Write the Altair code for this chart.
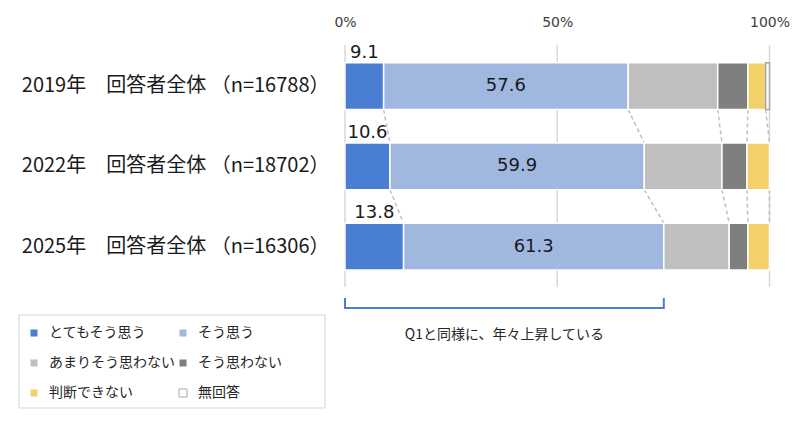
import altair as alt
import pandas as pd

years = ["2019年", "2022年", "2025年"]
n_counts = [16788, 18702, 16306]
categories = ["とてもそう思う", "そう思う", "あまりそう思わない", "そう思わない", "判断できない", "無回答"]
colors = ["#4A7ED3", "#A0B7E0", "#BFBFBF", "#7F7F7F", "#F2D16B", "#FFFFFF"]
strokes = ["#FFFFFF", "#FFFFFF", "#FFFFFF", "#FFFFFF", "#FFFFFF", "#A6A6A6"]
share_2019 = [9.1, 57.6, 21.1, 7.1, 4.2, 0.9]
share_2022 = [10.6, 59.9, 18.3, 5.9, 5.3, 0.0]
share_2025 = [13.8, 61.3, 15.4, 4.4, 5.1, 0.0]
ticks = [0, 50, 100]
note = "Q1と同様に、年々上昇している"

JP = "Noto Sans CJK JP"
NUM = "DejaVu Sans"

# long table with cumulative positions
row_labels = []
recs = []
for y, n, vals in zip(years, n_counts, [share_2019, share_2022, share_2025]):
    label = f"{y}　回答者全体 （n={n}）"
    row_labels.append(label)
    cum = 0.0
    for i, (c, v) in enumerate(zip(categories, vals)):
        recs.append({"row": label, "cat": c, "order": i, "value": v,
                     "start": cum, "end": cum + v, "mid": cum + v / 2})
        cum += v
df = pd.DataFrame(recs)

# dashed connectors between consecutive rows
conn = []
for a, b in zip(row_labels[:-1], row_labels[1:]):
    ea = df[df.row == a].end.tolist()
    eb = df[df.row == b].end.tolist()
    for k in range(5):
        conn.append({"row_from": a, "row_to": b, "x_from": ea[k], "x_to": eb[k]})
conn = pd.DataFrame(conn)

last = df[df.row == row_labels[-1]]
bracket_end = float(last.end.iloc[1])
bracket = pd.DataFrame({"a": [0.0], "b": [bracket_end], "m": [bracket_end / 2]})

x_scale = alt.Scale(domain=[0, 100], range=[337, 761.5])
y_scale = alt.Scale(domain=row_labels, range=[54.7, 262], paddingInner=0.416, paddingOuter=0)

grid = alt.Chart(pd.DataFrame({"g": ticks})).mark_rule(color="#D9D9D9", strokeWidth=1.5).encode(
    x=alt.X("g:Q", scale=x_scale, title=None,
            axis=alt.Axis(orient="top", values=ticks, labelExpr="datum.value + '%'",
                          domain=False, ticks=False, grid=False, labelPadding=0, offset=-21,
                          labelFont=NUM, labelFontSize=14, labelColor="#404040",
                          labelFlush=False, labelOverlap=False)),
    y=alt.value(37), y2=alt.value(279),
)

bars = alt.Chart(df[df.value > 0]).mark_bar(strokeWidth=1.5).encode(
    x=alt.X("start:Q", scale=x_scale, title=None),
    x2="end",
    y=alt.Y("row:N", scale=y_scale, title=None,
            axis=alt.Axis(orient="left", offset=-321, domain=False, ticks=False, labelPadding=0,
                          labelLimit=400, labelFont=JP, labelFontSize=20, labelColor="#1A1A1A")),
    color=alt.Color("cat:N", scale=alt.Scale(domain=categories, range=colors), title=None),
    stroke=alt.Stroke("cat:N", scale=alt.Scale(domain=categories, range=strokes), title=None),
    order="order:Q",
)

connectors = alt.Chart(conn).mark_rule(color="#BFBFBF", strokeWidth=1.5, strokeDash=[4, 3]).encode(
    x=alt.X("x_from:Q", scale=x_scale, title=None),
    x2="x_to",
    y=alt.Y("row_from:N", scale=y_scale, bandPosition=1, title=None),
    y2=alt.Y2("row_to", bandPosition=0),
)

top_labels = alt.Chart(df[df.order == 0]).mark_text(
    font=NUM, fontSize=18, baseline="alphabetic", dy=-5, color="#1A1A1A").encode(
    x=alt.X("mid:Q", scale=x_scale, title=None),
    y=alt.Y("row:N", scale=y_scale, bandPosition=0, title=None),
    text=alt.Text("value:Q", format=".1f"),
)

inner_labels = alt.Chart(df[df.order == 1]).mark_text(
    font=NUM, fontSize=18, baseline="middle", color="#1A1A1A").encode(
    x=alt.X("mid:Q", scale=x_scale, title=None),
    y=alt.Y("row:N", scale=y_scale, title=None),
    text=alt.Text("value:Q", format=".1f"),
)

br = alt.Chart(bracket)
br_color = "#4A7ED3"
bracket_h = br.mark_rule(color=br_color, strokeWidth=2).encode(
    x=alt.X("a:Q", scale=x_scale, title=None), x2="b", y=alt.value(300))
bracket_l = br.mark_rule(color=br_color, strokeWidth=2).encode(
    x=alt.X("a:Q", scale=x_scale, title=None), y=alt.value(290), y2=alt.value(301))
bracket_r = br.mark_rule(color=br_color, strokeWidth=2).encode(
    x=alt.X("b:Q", scale=x_scale, title=None), y=alt.value(290), y2=alt.value(301))
note_text = br.mark_text(font=JP, fontSize=14, color="#262626", baseline="middle").encode(
    x=alt.X("m:Q", scale=x_scale, title=None), y=alt.value(327), text=alt.value(note))

legend_box = alt.Chart(pd.DataFrame({"k": [0]})).mark_rect(
    fillOpacity=0, stroke="#D9D9D9", strokeWidth=1.2).encode(
    x=alt.value(11), x2=alt.value(317), y=alt.value(307), y2=alt.value(400))

chart = alt.layer(
    grid, connectors, bars, top_labels, inner_labels,
    bracket_h, bracket_l, bracket_r, note_text, legend_box,
).properties(
    width=784, height=407,
    autosize=alt.AutoSizeParams(type="none"),
    padding=0,
).configure_view(strokeWidth=0).configure_legend(
    orient="none", legendX=11, legendY=310, columns=2, direction="horizontal",
    symbolType="square", symbolSize=64, symbolStrokeWidth=1,
    labelFont=JP, labelFontSize=14, labelColor="#262626", labelOffset=8,
    rowPadding=16, columnPadding=1, padding=8, labelLimit=300,
)

chart.save("out.html", embed_options={"renderer": "svg", "actions": False})
